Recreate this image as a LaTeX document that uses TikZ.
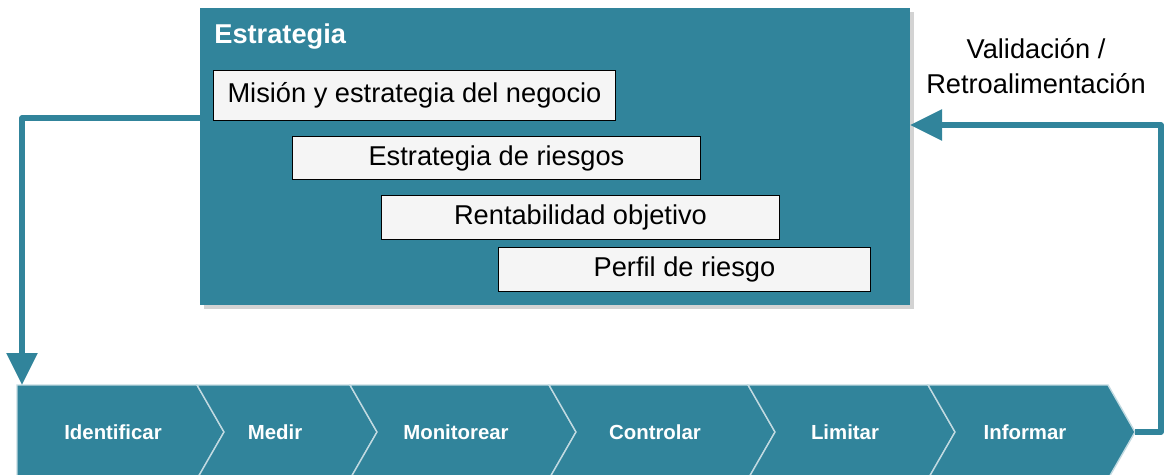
\documentclass[tikz,border=0pt]{standalone}
\usepackage{fontspec}
\setmainfont{Liberation Sans}
\usetikzlibrary{arrows.meta,shadows}
\definecolor{stratblue}{RGB}{49,132,155}
\definecolor{boxgray}{RGB}{245,245,245}
\begin{document}
\begin{tikzpicture}[x=0.02cm,y=-0.02cm,
  bigbox/.style={fill=stratblue, anchor=north west, inner sep=0pt,
    drop shadow={shadow xshift=2pt,shadow yshift=-2pt,opacity=0.35}},
  itembox/.style={draw=black, line width=0.6pt, fill=boxgray, anchor=north west,
    inner sep=0pt, font=\fontsize{15.5}{18}\selectfont},
  chev/.style={fill=stratblue, draw=white!70!stratblue, line width=0.8pt},
  chevtext/.style={text=white, font=\fontsize{11.6}{14}\selectfont\bfseries},
  flow/.style={draw=stratblue, line width=0.11cm, line join=round,
    -{Triangle[length=0.64cm,width=0.6cm]}}]
\useasboundingbox (0,0) rectangle (1165,474);
\clip (0,0) rectangle (1165,474);
% strategy block
\node[bigbox, minimum width=14.2cm, minimum height=5.94cm] (strat) at (200,8) {};
\node[anchor=base west, inner sep=0pt, text=white, font=\fontsize{15.5}{18}\selectfont\bfseries] (title) at (214,43) {Estrategia};
\node[itembox, minimum width=8.04cm, minimum height=1.0cm] (mision) at (213,70) {Misión y estrategia del negocio};
\node[itembox, minimum width=8.16cm, minimum height=0.86cm] (riesgos) at (292,136) {Estrategia de riesgos};
\node[itembox, minimum width=7.96cm, minimum height=0.88cm] (rentab) at (381,195) {Rentabilidad objetivo};
\node[itembox, minimum width=7.44cm, minimum height=0.88cm] (perfil) at (498,247) {Perfil de riesgo};
% process chevrons
\foreach \xa/\dn/\xb/\xt/\lbl [count=\i] in {17/0/197/113/Identificar, 197/27/350/275/Medir,
    350/27/549/456/Monitorear, 549/27/748/655/Controlar, 748/27/928/845/Limitar, 928/27/1108/1025/Informar}{
  \filldraw[chev] (\xa,385) -- (\xb,385) -- (\xb+27,432) -- (\xb,479) -- (\xa,479) -- (\xa+\dn,432) -- cycle;
  \node[chevtext] (phase\i) at (\xt,432) {\lbl};
}
\node[align=center, font=\fontsize{15.5}{20}\selectfont] (valid) at (1036,66) {Validación /\\Retroalimentación};
% loops
\coordinate (out) at (200,118);
\coordinate (in) at (22,385);
\coordinate (tip) at (1135,432);
\coordinate (turn) at (1161,432);
\coordinate (back) at (910,125);
\draw[flow] (out) -| (in);
\draw[flow] (tip) -- (turn) |- (back);
\end{tikzpicture}
\end{document}
